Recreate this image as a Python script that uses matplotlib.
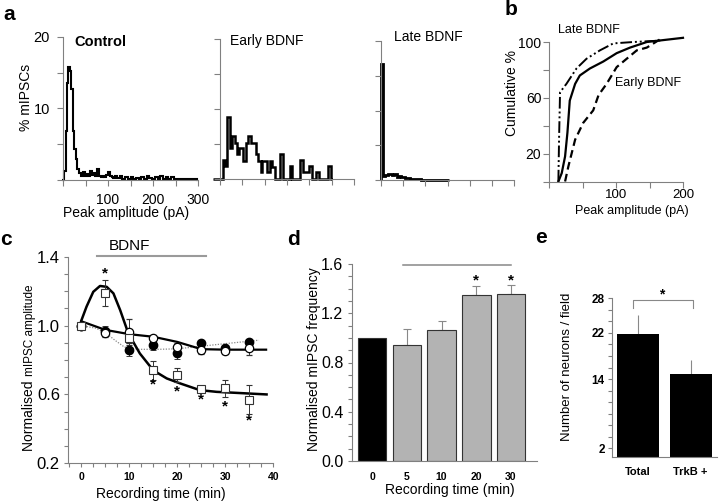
import matplotlib
matplotlib.use("Agg")
import matplotlib.pyplot as plt
from matplotlib.ticker import MultipleLocator

plt.rcParams["font.family"] = ["Liberation Sans", "DejaVu Sans"]

# ==============================
# DATA
# ==============================
# a: amplitude histograms (% of mIPSCs per bin)
CONTROL_EDGES = [-2, 3, 6, 9, 12, 15, 18, 21.5, 24.5, 28, 32, 36, 40, 44, 48, 52, 56, 60, 64, 68,
                 72, 76, 80, 84, 88, 92, 96, 100, 104, 108, 112, 116, 120, 126, 132, 138, 144, 150,
                 156, 162, 168, 174, 180, 186, 192, 198, 204, 210, 216, 222, 228, 234, 240, 246,
                 252, 298, 299]
CONTROL_PCT = [0, 1.3, 6.9, 13.6, 15.8, 15.3, 12.7, 6.9, 4.3, 2.9,
               1.6, 1.0, 0.6, 1.1, 0.5, 0.9, 0.6, 1.3, 0.7, 1.0,
               0.5, 1.5, 0.6, 0.4, 0.5, 0.4, 0.7, 1.1, 0.6, 0.4,
               0.3, 0.5, 0.3, 0.5, 0.2, 0.4, 0.2, 0.4, 0.2, 0.3,
               0.2, 0.4, 0.2, 0.5, 0.3, 0.2, 0.4, 0.2, 0.5, 0.2,
               0.4, 0.2, 0.4, 0.1, 0.1, 0]

EARLY_EDGES = [-15, 6, 11, 16, 22, 27, 33, 37, 43, 52, 58, 63, 69, 80, 86, 91, 95, 106, 112, 117,
               124, 135, 141, 156, 161, 179, 185, 199, 205, 214, 222, 242, 249, 250]
EARLY_PCT = [0, 2.7, 1.8, 8.8, 4.4, 6.2, 5.2, 3.6, 4.4, 2.6,
             5.2, 6.2, 5.2, 3.6, 2.6, 1.0, 2.6, 1.0, 2.6, 1.7,
             0, 3.6, 0, 1.8, 0, 2.7, 1.0, 1.8, 0, 1.0,
             0, 1.8, 0]

LATE_EDGES = [-1, 1, 5, 10, 15, 20, 25, 30, 35, 40, 45, 50, 55, 60, 65, 70, 80, 90, 152, 153]
LATE_PCT = [0, 16.7, 0.6, 0.7, 0.8, 0.9, 0.7, 0.8, 0.5, 0.6,
            0.4, 0.5, 0.3, 0.3, 0.2, 0.15, 0.1, 0.05, 0]

# b: cumulative distributions
CUM_CONTROL_X = [14, 19, 24, 27.5, 31, 39, 46, 61, 81, 101, 121, 146, 200]
CUM_CONTROL_Y = [0, 6, 18, 35, 58, 70, 76, 81, 86, 92, 96, 100, 103]
CUM_EARLY_X = [24, 29, 39, 51, 66, 74, 86, 101, 116, 131, 146, 166]
CUM_EARLY_Y = [0, 11, 30, 42, 51, 62, 70, 82, 88, 94, 96, 102]
CUM_LATE_X = [14, 15, 16.5, 26, 41, 56, 76, 96, 126, 166]
CUM_LATE_Y = [0, 30, 64, 70, 81, 88, 94, 99, 100, 101]

# c: normalised amplitude over time
TIME = [0, 5, 10, 15, 20, 25, 30, 35]
SQ_AMP = [1.0, 1.19, 0.93, 0.74, 0.715, 0.63, 0.635, 0.57]
SQ_ERR = [0.01, 0.075, 0.03, 0.055, 0.04, 0.01, 0.05, 0.085]
FILLED_AMP = [1.0, 0.97, 0.86, 0.887, 0.838, 0.896, 0.867, 0.906]
FILLED_ERR = [0.01, 0.03, 0.037, 0.03, 0.033, 0.015, 0.015, 0.015]
OPEN_AMP = [1.0, 0.955, 0.965, 0.93, 0.877, 0.858, 0.854, 0.867]
OPEN_ERR = [0.01, 0.02, 0.075, 0.015, 0.02, 0.025, 0.02, 0.04]
STAR_T = [5, 15, 20, 25, 30, 35]
STAR_Y = [1.30, 0.655, 0.62, 0.573, 0.528, 0.45]

FIT_SQ_T = [0, 1.1, 2.5, 3.9, 5.3, 6.7, 8.1, 9.8, 12.2, 15, 17.8, 20.6, 24.7, 28.2, 31.7, 38.6]
FIT_SQ_Y = [1.028, 1.11, 1.196, 1.23, 1.225, 1.187, 1.09, 0.955, 0.838, 0.74, 0.693, 0.664,
            0.625, 0.615, 0.61, 0.60]
FIT_OPEN_T = [0, 5, 10, 15, 20, 25, 30, 38.5]
FIT_OPEN_Y = [1.025, 0.975, 0.95, 0.935, 0.905, 0.863, 0.86, 0.86]
FIT_DOT_T = [0, 3, 5, 7, 9, 12, 16, 20, 25, 30, 37]
FIT_DOT_Y = [1.0, 0.985, 0.96, 0.915, 0.875, 0.862, 0.862, 0.865, 0.88, 0.895, 0.915]

# d: normalised frequency
FREQ_LABELS = ["0", "5", "10", "20", "30"]
FREQ_MEAN = [1.0, 0.945, 1.06, 1.345, 1.355]
FREQ_ERR = [0, 0.125, 0.08, 0.075, 0.075]

# e: neuron counts
NEURON_LABELS = ["Total", "TrkB +"]
NEURON_MEAN = [21.8, 14.8]
NEURON_ERR = [3.3, 2.5]

W, H = 720, 503
AX_GREY = "#808080"


def px_axes(fig, left, top, right, bottom):
    return fig.add_axes([left / W, 1 - bottom / H, (right - left) / W, (bottom - top) / H])


def ftext(fig, x, y, s, **kw):
    fig.text(x / W, 1 - y / H, s, **kw)


def style(ax, ticklen=3.5, pad=3):
    for side in ("top", "right"):
        ax.spines[side].set_visible(False)
    for side in ("left", "bottom"):
        ax.spines[side].set_color(AX_GREY)
        ax.spines[side].set_linewidth(0.8)
    ax.tick_params(which="both", direction="out", length=ticklen, width=0.8,
                   color=AX_GREY, pad=pad)
    ax.patch.set_alpha(0)


def main():
    fig = plt.figure(figsize=(W / 100, H / 100), dpi=100)

    # ------------------------------
    # a: histograms
    # ------------------------------
    hist_axes = [
        (px_axes(fig, 63, 37, 198, 180), CONTROL_EDGES, CONTROL_PCT, 1.5),
        (px_axes(fig, 220, 39, 354, 179), EARLY_EDGES, EARLY_PCT, 1.8),
        (px_axes(fig, 381, 41, 514, 180), LATE_EDGES, LATE_PCT, 2.0),
    ]
    for i, (ax, edges, pct, lw) in enumerate(hist_axes):
        ax.stairs(pct, edges, baseline=None, color="black", lw=lw, clip_on=False)
        ax.set_xlim(0, 300)
        ax.set_ylim(0, 20)
        style(ax, ticklen=4.5, pad=5)
        ax.set_xticks(range(0, 301, 50))
        ax.set_yticks(range(0, 21, 5))
        if i == 0:
            ax.set_xticklabels(["", "", "100", "", "200", "", "300"], fontsize=10)
            ax.set_yticklabels(["", "", "10", "", "20"], fontsize=10.5)
        else:
            ax.set_xticklabels([])
            ax.set_yticklabels([])

    ftext(fig, 74, 46, "Control", fontsize=10.5, fontweight="bold")
    ftext(fig, 230, 45, "Early BDNF", fontsize=10)
    ftext(fig, 394, 41, "Late BDNF", fontsize=10)
    ftext(fig, 26, 97, "% mIPSCs", fontsize=10, rotation=90, ha="center", va="center")
    ftext(fig, 126, 213, "Peak amplitude (pA)", fontsize=10, ha="center", va="center")

    # ------------------------------
    # b: cumulative
    # ------------------------------
    axb = px_axes(fig, 549, 42, 683, 181.5)
    axb.plot(CUM_CONTROL_X, CUM_CONTROL_Y, color="black", lw=1.6, clip_on=False)
    axb.plot(CUM_EARLY_X, CUM_EARLY_Y, color="black", lw=1.6, ls=(0, (3.5, 2)), clip_on=False)
    axb.plot(CUM_LATE_X, CUM_LATE_Y, color="black", lw=1.4,
             ls=(0, (6, 1.5, 1, 1.5, 1, 1.5)), clip_on=False)
    axb.set_xlim(0, 200)
    axb.set_ylim(0, 100)
    style(axb, ticklen=4, pad=1.5)
    axb.set_xticks(range(0, 201, 50))
    axb.set_xticklabels(["", "", "100", "", "200"], fontsize=9.5)
    axb.set_yticks(range(0, 101, 20))
    axb.set_yticklabels(["", "20", "", "60", "", "100"], fontsize=10)
    ftext(fig, 558, 33, "Late BDNF", fontsize=9)
    ftext(fig, 615, 86, "Early BDNF", fontsize=9)
    ftext(fig, 512, 93, "Cumulative %", fontsize=10, rotation=90, ha="center", va="center")
    ftext(fig, 632, 211, "Peak amplitude (pA)", fontsize=9, ha="center", va="center")

    # ------------------------------
    # c: amplitude time course
    # ------------------------------
    axc = px_axes(fig, 68.3, 256.7, 273.3, 463.3)
    axc.plot(FIT_DOT_T, FIT_DOT_Y, color="#888888", lw=0.9, ls=(0, (1, 1.2)), zorder=2)
    axc.plot(FIT_OPEN_T, FIT_OPEN_Y, color="black", lw=1.6, zorder=2)
    axc.plot(FIT_SQ_T, FIT_SQ_Y, color="black", lw=1.8, zorder=2)
    eb = dict(ecolor="#333333", elinewidth=0.7, capsize=2, capthick=0.7, ls="none", zorder=3)
    axc.errorbar(TIME, FILLED_AMP, yerr=FILLED_ERR, marker="o", ms=6, mfc="black",
                 mec="black", **eb)
    axc.errorbar(TIME, OPEN_AMP, yerr=OPEN_ERR, marker="o", ms=6, mfc="white",
                 mec="black", mew=0.9, **eb)
    axc.errorbar(TIME, SQ_AMP, yerr=SQ_ERR, marker="s", ms=5.5, mfc="white",
                 mec="#333333", mew=0.8, **eb)
    for t, y in zip(STAR_T, STAR_Y):
        axc.text(t, y, "*", fontsize=11, fontweight="bold", ha="center", va="center")
    axc.plot([3.3, 25.9], [1.403, 1.403], color="#9a9a9a", lw=1.5, clip_on=False)
    axc.set_xlim(-2.7, 40)
    axc.set_ylim(0.2, 1.4)
    style(axc, ticklen=3, pad=3)
    axc.xaxis.set_major_locator(MultipleLocator(10))
    axc.xaxis.set_minor_locator(MultipleLocator(2.5))
    axc.yaxis.set_major_locator(MultipleLocator(0.4))
    axc.yaxis.set_minor_locator(MultipleLocator(0.1))
    axc.set_xticks([0, 10, 20, 30, 40])
    axc.set_xticklabels(["0", "10", "20", "30", "40"], fontsize=7.5, fontweight="bold")
    axc.set_yticks([0.2, 0.6, 1.0, 1.4])
    axc.set_yticklabels(["0.2", "0.6", "1.0", "1.4"], fontsize=12)
    ftext(fig, 129, 250, "BDNF", fontsize=11, ha="center", va="baseline")
    ftext(fig, 33, 451, "Normalised ", fontsize=10, rotation=90, rotation_mode="anchor",
          ha="left", va="baseline")
    ftext(fig, 33, 376, "mIPSC amplitude", fontsize=8.5, rotation=90, rotation_mode="anchor",
          ha="left", va="baseline")
    ftext(fig, 161, 494, "Recording time (min)", fontsize=10, ha="center", va="center")

    # ------------------------------
    # d: frequency bars
    # ------------------------------
    axd = px_axes(fig, 351.7, 264, 536.7, 461)
    xs = list(range(len(FREQ_LABELS)))
    colors = ["black"] + ["#b3b3b3"] * (len(xs) - 1)
    axd.bar(xs, FREQ_MEAN, width=0.82, color=colors, edgecolor="#333333", lw=0.8, zorder=2)
    axd.errorbar(xs[1:], FREQ_MEAN[1:], yerr=[[0] * 4, FREQ_ERR[1:]], ls="none",
                 ecolor="#888888", elinewidth=0.8, capsize=3, capthick=0.8, zorder=1)
    for x in (3, 4):
        axd.text(x, 1.465, "*", fontsize=11, fontweight="bold", ha="center", va="center")
    axd.plot([0.88, 4.0], [1.59, 1.59], color="#888888", lw=1.1, clip_on=False)
    axd.set_xlim(-0.59, 4.74)
    axd.set_ylim(0, 1.6)
    style(axd, ticklen=3, pad=3)
    axd.set_xticks(xs)
    axd.set_xticklabels(FREQ_LABELS, fontsize=7.5, fontweight="bold")
    axd.tick_params(axis="x", length=0, pad=8)
    axd.yaxis.set_minor_locator(MultipleLocator(0.1))
    axd.set_yticks([0, 0.4, 0.8, 1.2, 1.6])
    axd.set_yticklabels(["0.0", "0.4", "0.8", "1.2", "1.6"], fontsize=11.5)
    ftext(fig, 314, 359, "Normalised mIPSC frequency", fontsize=10, rotation=90,
          ha="center", va="center")
    ftext(fig, 450, 490, "Recording time (min)", fontsize=10, ha="center", va="center")

    # ------------------------------
    # e: neuron counts
    # ------------------------------
    axe = px_axes(fig, 611.7, 298.3, 717, 457.3)
    xe = list(range(len(NEURON_LABELS)))
    axe.bar(xe, NEURON_MEAN, width=0.8, color="black", zorder=2)
    axe.errorbar(xe, NEURON_MEAN, yerr=[[0, 0], NEURON_ERR], ls="none", ecolor="#888888",
                 elinewidth=0.8, capsize=0, zorder=1)
    axe.plot([-0.1, -0.1, 1.05, 1.05], [26.4, 27.7, 27.7, 26.4], color="#888888", lw=0.8,
             clip_on=False)
    axe.text(0.45, 28.6, "*", fontsize=10, fontweight="bold", ha="center", va="center")
    axe.set_xlim(-0.5, 1.5)
    axe.set_ylim(0.44, 28)
    style(axe, ticklen=3, pad=2)
    axe.set_xticks(xe)
    axe.set_xticklabels(NEURON_LABELS, fontsize=8, fontweight="bold")
    axe.tick_params(axis="x", length=0, pad=7)
    axe.yaxis.set_minor_locator(MultipleLocator(2))
    axe.set_yticks([2, 14, 22, 28])
    axe.set_yticklabels(["2", "14", "22", "28"], fontsize=8.5, fontweight="bold")
    ftext(fig, 567, 367, "Number of neurons / field", fontsize=9.5, rotation=90,
          ha="center", va="center")

    # ------------------------------
    # panel letters
    # ------------------------------
    for x, y, s in [(3, 20, "a"), (505, 15, "b"), (0, 245, "c"), (287, 245, "d"), (535, 243, "e")]:
        ftext(fig, x, y, s, fontsize=15, fontweight="bold", va="baseline")

    fig.savefig("out.png", dpi=100)
    plt.close(fig)


if __name__ == "__main__":
    main()
